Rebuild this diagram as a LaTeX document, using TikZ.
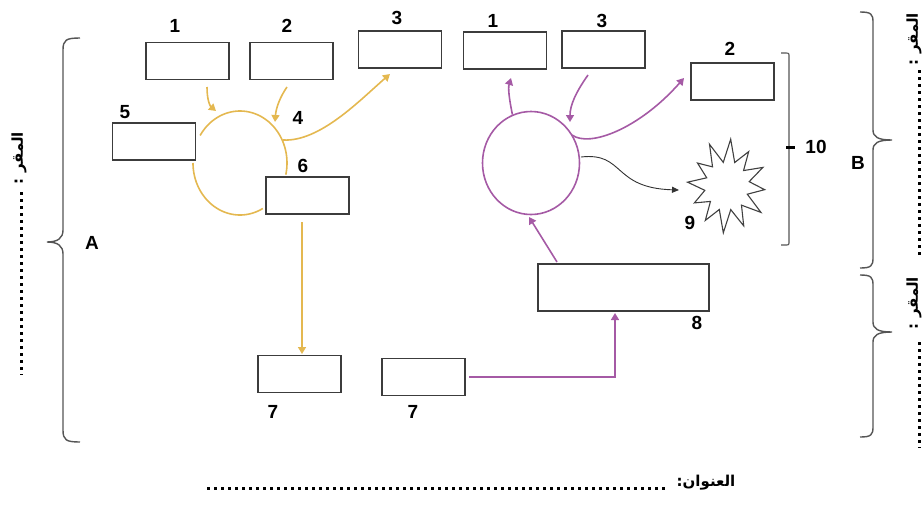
\documentclass[tikz,border=0pt]{standalone}
\usepackage{fontspec}
\setmainfont{Liberation Sans}
\newfontfamily\arabicfont[Script=Arabic]{DejaVu Sans}
\TeXXeTstate=1
\usetikzlibrary{arrows.meta,shapes.geometric}
\definecolor{yel}{RGB}{228,184,80}
\definecolor{pur}{RGB}{165,90,165}
\definecolor{boxc}{RGB}{60,60,60}
\definecolor{brc}{RGB}{85,85,85}
\begin{document}
\begin{tikzpicture}[x=1pt,y=-1pt,
  box/.style={draw=boxc, line width=1.1pt, fill=white, minimum width=83pt, minimum height=37pt, inner sep=0pt},
  lbl/.style={font=\fontsize{19}{22}\selectfont\bfseries, inner sep=0pt},
  yline/.style={draw=yel, line width=1.6pt},
  yarr/.style={yline, -{Triangle[length=7pt,width=8pt]}},
  pline/.style={draw=pur, line width=1.6pt},
  parr/.style={pline, -{Triangle[length=7pt,width=8pt]}},
  karr/.style={draw=black!80, line width=0.9pt, -{Triangle[length=7pt,width=6pt]}},
  bracestyle/.style={draw=brc, line width=1.4pt},
  dots/.style={line width=3pt, dash pattern=on 3pt off 4pt},
  artxt/.style={font=\arabicfont\fontsize{15}{18}\selectfont\bfseries, inner sep=0pt}
]
\useasboundingbox (0,0) rectangle (923,528);

% ---------- yellow cycle ----------
\coordinate (yc) at (240,163);
\draw[yline] plot[domain=212:373, samples=70, smooth] ({240+47*cos(\x)}, {163+52*sin(\x)});
\draw[yline] plot[domain=61:180, samples=50, smooth] ({240+47*cos(\x)}, {163+52*sin(\x)});

\node[box] (y1) at (187.5,61) {};
\node[box] (y2) at (291.5,61) {};
\node[box] (y3) at (400,49.5) {};
\node[box] (y5) at (154,141.5) {};
\node[box] (y6) at (307.5,195.5) {};
\node[box] (y7) at (299.5,374) {};

\coordinate (y1s) at (207,87);
\coordinate (y1t) at (216,111);
\coordinate (y2s) at (287,87);
\coordinate (y2t) at (275,122);
\coordinate (y3s) at (283,140);
\coordinate (y3t) at (390,74);
\coordinate (y6s) at (302,222);
\coordinate (y7t) at (302,354);

\draw[yarr] (y1s) .. controls (207,100) and (210,106) .. (y1t);
\draw[yarr] (y2s) .. controls (280,97) and (276,108) .. (y2t);
\draw[yarr] (y3s) .. controls (320,142) and (360,100) .. (y3t);
\draw[yarr] (y6s) -- (y7t);

% ---------- purple cycle ----------
\node[draw=pur, line width=1.6pt, ellipse, minimum width=97pt, minimum height=103pt, inner sep=0pt] (pc) at (531,163) {};

\node[box] (p1) at (505,50.5) {};
\node[box] (p3) at (603.5,49.5) {};
\node[box] (p2) at (732.5,81.5) {};
\node[box] (p7) at (423.5,377) {};
\node[box, minimum width=171pt, minimum height=47pt] (p8) at (623.5,287.5) {};

\coordinate (p1t) at (511,78);
\coordinate (p3s) at (588,75);
\coordinate (p3t) at (570,122);
\coordinate (p2s) at (572,135);
\coordinate (p2t) at (684,78);
\coordinate (ks) at (581,157);
\coordinate (kt) at (679,190);
\coordinate (p8s) at (557,262);
\coordinate (pct) at (529,217);
\coordinate (p7s) at (469,377);
\coordinate (p8t) at (615,313);

\draw[parr] (pc.111) .. controls (509,98) and (508,88) .. (p1t);
\draw[parr] (p3s) .. controls (576,92) and (570,105) .. (p3t);
\draw[parr] (p2s) .. controls (590,148) and (640,128) .. (p2t);
\draw[parr] (p8s) -- (pct);
\draw[parr] (p7s) -| (p8t);
\draw[karr] (ks) .. controls (625,152) and (612,188) .. (kt);

% starburst
\begin{scope}[shift={(727,186)}, xscale=0.9]
\draw[draw=black!75, line width=1.1pt, fill=white, line join=miter]
 (5:42) -- (20:24) -- (35:46) -- (50:25) -- (65:44) -- (80:24) -- (95:47) -- (110:25) -- (125:42) -- (140:24) -- (155:40) -- (170:25) -- (185:44) -- (200:24) -- (215:40) -- (230:25) -- (245:46) -- (260:24) -- (275:47) -- (290:25) -- (305:42) -- (320:24) -- (335:44) -- (350:25) -- cycle;
\end{scope}

% ---------- labels ----------
\node[lbl] (l1) at (175,26) {1};
\node[lbl] (l2) at (287,26) {2};
\node[lbl] (l3) at (397,18) {3};
\node[lbl] (l5) at (125,112) {5};
\node[lbl] (l4) at (298,118) {4};
\node[lbl] (l6) at (303,166) {6};
\node[lbl] (l7a) at (273,412) {7};
\node[lbl] (l7b) at (413,412) {7};
\node[lbl] (l8) at (697,323) {8};
\node[lbl] (r1) at (493,21) {1};
\node[lbl] (r3) at (602,21) {3};
\node[lbl] (r2) at (730,49) {2};
\node[lbl] (l9) at (690,223) {9};
\node[lbl] (l10) at (816,147) {10};
\node[lbl] (lA) at (92,243) {A};
\node[lbl] (lB) at (858,163) {B};

% ---------- braces ----------
\draw[bracestyle] (80,38) .. controls (66,38) and (63,40) .. (63,50) -- (63,230)
  .. controls (63,238) and (58,242) .. (47,242)
  .. controls (58,242) and (63,246) .. (63,254) -- (63,430)
  .. controls (63,440) and (66,442) .. (80,442);
\draw[bracestyle] (860,12) .. controls (871,12) and (873,14) .. (873,22) -- (873,130)
  .. controls (873,137) and (878,140) .. (892,140)
  .. controls (878,140) and (873,143) .. (873,150) -- (873,258)
  .. controls (873,266) and (871,268) .. (860,268);
\draw[bracestyle] (860,275) .. controls (871,275) and (873,277) .. (873,285) -- (873,322)
  .. controls (873,329) and (878,332) .. (892,332)
  .. controls (878,332) and (873,335) .. (873,342) -- (873,427)
  .. controls (873,435) and (871,437) .. (860,437);
\draw[bracestyle, line width=1.1pt] (781,53) -- (785,53) .. controls (789,53) .. (789,57) -- (789,241) .. controls (789,245) .. (785,245) -- (781,245);
\draw[line width=3pt] (786,147) -- (795,147);

% ---------- Arabic texts and dotted lines ----------
\node[artxt, rotate=90] (tl) at (19,158) {\beginR المقر :\endR};
\draw[dots] (21,192) -- (21,375);
\node[artxt, rotate=90] (tr1) at (914,39) {\beginR المقر :\endR};
\draw[dots] (919,70) -- (919,258);
\node[artxt, rotate=90] (tr2) at (914,303) {\beginR المقر :\endR};
\draw[dots] (919,342) -- (919,448);
\node[artxt] (title) at (706,483) {\beginR العنوان:\endR};
\draw[dots] (207,488) -- (668,488);
\end{tikzpicture}
\end{document}
